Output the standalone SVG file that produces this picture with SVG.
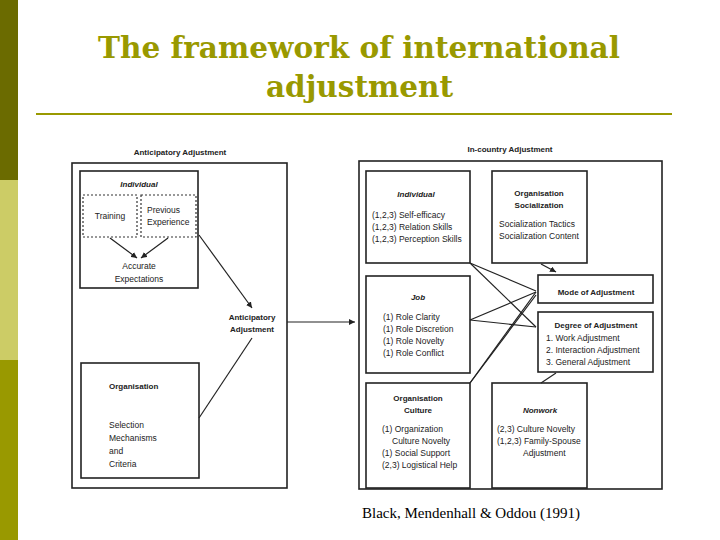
<svg xmlns="http://www.w3.org/2000/svg" width="720" height="540" viewBox="0 0 720 540">
<defs>
<marker id="ah" viewBox="0 0 10 10" refX="10" refY="5" markerWidth="5" markerHeight="5" orient="auto"><path d="M0,0L10,5L0,10z" fill="#222"/></marker>
<style>
.b{fill:none;stroke:#222;stroke-width:1.6}
.d{fill:none;stroke:#333;stroke-width:1.2;stroke-dasharray:2,2}
.c{stroke:#222;stroke-width:1.2;fill:none}
text{font-family:"Liberation Sans",Arial,sans-serif;font-size:8.5px;fill:#222}
.h{font-weight:bold;font-size:8px}
.i{font-weight:bold;font-style:italic;font-size:8px}
.t{font-family:"DejaVu Serif","Liberation Serif",serif;font-size:29px;font-weight:bold;fill:#999900}
</style>
</defs>
<rect width="720" height="540" fill="#fff"/>
<rect x="0" y="0" width="18" height="180" fill="#6b6b00"/>
<rect x="0" y="180" width="18" height="180" fill="#cccc66"/>
<rect x="0" y="360" width="18" height="180" fill="#999900"/>
<text x="98" y="58" class="t" textLength="522" lengthAdjust="spacingAndGlyphs">The framework of international</text>
<text x="266" y="97" class="t" textLength="187" lengthAdjust="spacingAndGlyphs">adjustment</text>
<line x1="36" y1="114" x2="672" y2="114" stroke="#999900" stroke-width="2"/>
<text x="180" y="155" text-anchor="middle" class="h">Anticipatory Adjustment</text>
<rect class="b" x="72" y="163" width="215" height="325"/>
<g id="ant-individual">
<rect class="b" x="80" y="171" width="118" height="117"/>
<text x="139" y="187" text-anchor="middle" class="i">Individual</text>
<rect class="d" x="83" y="195" width="54" height="42"/>
<text x="110" y="219" text-anchor="middle">Training</text>
<rect class="d" x="141" y="195" width="55" height="42"/>
<text x="147" y="213">Previous</text><text x="147" y="225">Experience</text>
<text x="139" y="269" text-anchor="middle">Accurate</text>
<text x="139" y="282" text-anchor="middle">Expectations</text>
</g>
<g id="ant-organisation">
<rect class="b" x="81" y="363" width="118" height="115"/>
<text x="109" y="389" class="h">Organisation</text>
<text x="109" y="428">Selection</text><text x="109" y="441">Mechanisms</text><text x="109" y="454">and</text><text x="109" y="467">Criteria</text>
</g>
<g id="ant-adj"><text x="252" y="320" text-anchor="middle" class="h">Anticipatory</text><text x="252" y="332" text-anchor="middle" class="h">Adjustment</text></g>
<text x="510" y="152" text-anchor="middle" class="h">In-country Adjustment</text>
<rect class="b" x="359" y="161" width="303" height="328"/>
<g id="ic-individual"><rect class="b" x="366" y="171" width="104" height="92"/>
<text x="416" y="197" text-anchor="middle" class="i">Individual</text>
<text x="372" y="218">(1,2,3) Self-efficacy</text><text x="372" y="230">(1,2,3) Relation Skills</text><text x="372" y="242">(1,2,3) Perception Skills</text></g>
<g id="ic-orgsoc"><rect class="b" x="492" y="171" width="95" height="92"/>
<text x="539" y="196" text-anchor="middle" class="h">Organisation</text><text x="539" y="208" text-anchor="middle" class="h">Socialization</text>
<text x="499" y="227">Socialization Tactics</text><text x="499" y="239">Socialization Content</text></g>
<g id="ic-mode"><rect class="b" x="538" y="275" width="115" height="28"/>
<text x="596" y="295" text-anchor="middle" class="h">Mode of Adjustment</text></g>
<g id="ic-degree"><rect class="b" x="538" y="312" width="115" height="60"/>
<text x="596" y="328" text-anchor="middle" class="h">Degree of Adjustment</text>
<text x="546" y="341">1. Work Adjustment</text><text x="546" y="353">2. Interaction Adjustment</text><text x="546" y="365">3. General Adjustment</text></g>
<g id="ic-job"><rect class="b" x="366" y="276" width="104" height="97"/>
<text x="418" y="300" text-anchor="middle" class="i">Job</text>
<text x="383" y="320">(1) Role Clarity</text><text x="383" y="332">(1) Role Discretion</text><text x="383" y="344">(1) Role Novelty</text><text x="383" y="356">(1) Role Conflict</text></g>
<g id="ic-culture"><rect class="b" x="366" y="383" width="104" height="105"/>
<text x="418" y="401" text-anchor="middle" class="h">Organisation</text><text x="418" y="413" text-anchor="middle" class="h">Culture</text>
<text x="382" y="432">(1) Organization</text><text x="392" y="444">Culture Novelty</text><text x="382" y="456">(1) Social Support</text><text x="382" y="468">(2,3) Logistical Help</text></g>
<g id="ic-nonwork"><rect class="b" x="492" y="383" width="95" height="105"/>
<text x="540" y="413" text-anchor="middle" class="i">Nonwork</text>
<text x="497" y="432">(2,3) Culture Novelty</text><text x="497" y="444">(1,2,3) Family-Spouse</text><text x="523" y="456">Adjustment</text></g>
<g id="connectors">
<line class="c" x1="110" y1="238" x2="137" y2="258" marker-end="url(#ah)"/>
<line class="c" x1="168" y1="238" x2="141" y2="258" marker-end="url(#ah)"/>
<line class="c" x1="199" y1="235" x2="252" y2="308" marker-end="url(#ah)"/>
<line class="c" x1="199" y1="418" x2="252" y2="338"/>
<line class="c" x1="287" y1="322" x2="355" y2="322" stroke-width="1.6" marker-end="url(#ah)"/>
<line class="c" x1="470" y1="263" x2="536" y2="291"/>
<line class="c" x1="470" y1="263" x2="536" y2="327"/>
<line class="c" x1="470" y1="320" x2="536" y2="292"/>
<line class="c" x1="470" y1="320" x2="536" y2="327"/>
<line class="c" x1="470" y1="383" x2="536" y2="292"/>
<line class="c" x1="470" y1="383" x2="536" y2="295"/>
<line class="c" x1="541" y1="264" x2="556" y2="272" marker-end="url(#ah)"/>
<line class="c" x1="541" y1="383" x2="556" y2="373"/>
</g>
<text x="362" y="518" style="font-family:'Liberation Serif',serif;font-size:15px;fill:#000">Black, Mendenhall &amp; Oddou (1991)</text>
</svg>
